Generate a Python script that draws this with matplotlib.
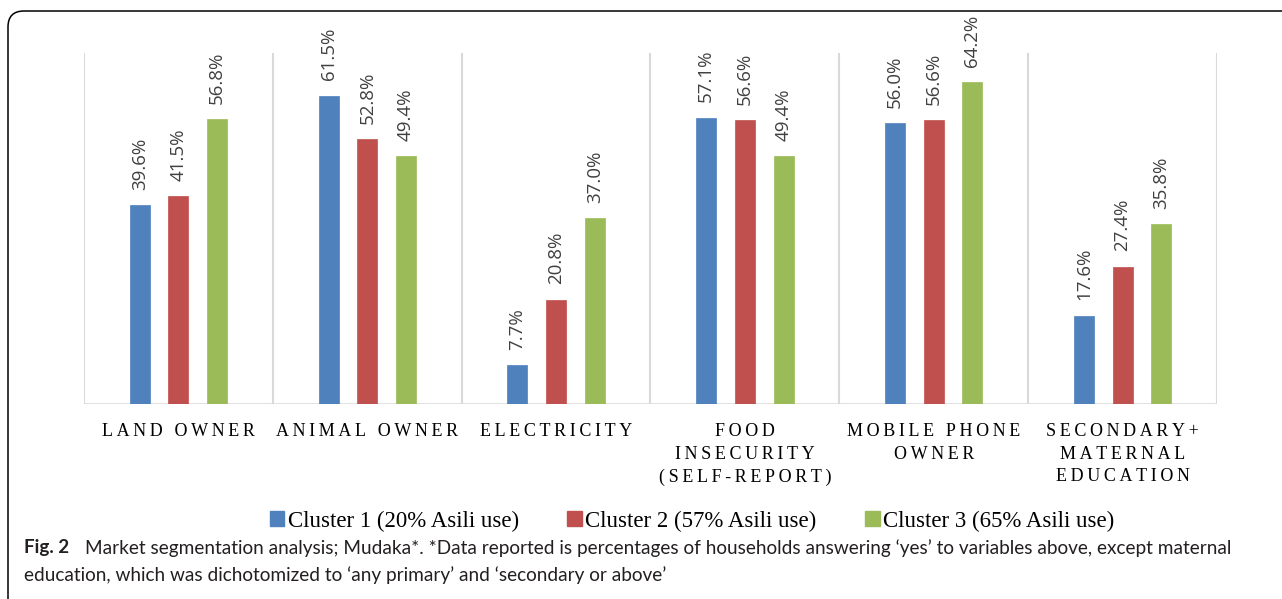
import numpy as np
import matplotlib.pyplot as plt
from matplotlib.patches import FancyBboxPatch, Patch
from matplotlib.transforms import IdentityTransform

# survey variables and cluster shares (% of households)
categories = ['LAND OWNER', 'ANIMAL OWNER', 'ELECTRICITY',
              'FOOD\nINSECURITY\n(SELF-REPORT)', 'MOBILE PHONE\nOWNER',
              'SECONDARY+\nMATERNAL\nEDUCATION']
cluster1 = [39.6, 61.5, 7.7, 57.1, 56.0, 17.6]
cluster2 = [41.5, 52.8, 20.8, 56.6, 56.6, 27.4]
cluster3 = [56.8, 49.4, 37.0, 49.4, 64.2, 35.8]
series_names = ['Cluster 1 (20% Asili use)', 'Cluster 2 (57% Asili use)',
                'Cluster 3 (65% Asili use)']
colors = ['#4f81bd', '#c0504d', '#9bbb59']

caption_bold = 'Fig. 2'
caption_1 = ('Market segmentation analysis; Mudaka*. *Data reported is percentages of '
             'households answering \u2018yes\u2019 to variables above, except maternal')
caption_2 = ('education, which was dichotomized to \u2018any primary\u2019 and '
             '\u2018secondary or above\u2019')


def spaced(label):
    # widen the letter spacing of the category names
    th = '\u2009'
    lines = []
    for line in label.split('\n'):
        words = [th.join(w) for w in line.split(' ')]
        lines.append((th + ' ' + th).join(words))
    return '\n'.join(lines)


W, H = 1282, 599
fig = plt.figure(figsize=(W / 100, H / 100), dpi=100)

# rounded frame around the figure (pixel coordinates)
frame = FancyBboxPatch((8, -30), 1320, H - 11 + 30,
                       boxstyle='round,pad=0,rounding_size=16',
                       transform=IdentityTransform(), fill=False,
                       edgecolor='black', linewidth=1.1)
fig.patches.append(frame)

ax = fig.add_axes([84 / W, 1 - 404 / H, (1217 - 84) / W, (404 - 53) / H])

x = np.arange(len(categories))
width = 0.106
offset = 0.205
for i, (vals, col) in enumerate(zip([cluster1, cluster2, cluster3], colors)):
    bars = ax.bar(x + (i - 1) * offset, vals, width, color=col,
                  edgecolor=col, linewidth=0.5, zorder=3)
    for b, v in zip(bars, vals):
        ax.annotate(f'{v:.1f}%', (b.get_x() + b.get_width() / 2, v),
                    xytext=(0, 11), textcoords='offset points',
                    rotation=90, ha='center', va='bottom',
                    fontsize=13.5, family='Open Sans', color='#404040')

ax.set_xlim(-0.5, len(categories) - 0.5)
ax.set_ylim(0, 70)

# vertical separators between categories
for b in np.arange(-0.5, len(categories), 1.0):
    ax.axvline(b, color='#d9d9d9', linewidth=1.5, zorder=1)
ax.axhline(0, color='#d9d9d9', linewidth=1.8, zorder=2)

for s in ax.spines.values():
    s.set_visible(False)
ax.set_yticks([])
ax.set_xticks(x)
ax.set_xticklabels([spaced(c) for c in categories], family='Liberation Serif',
                   fontsize=13, color='black', linespacing=1.42)
ax.tick_params(axis='x', length=0, pad=14)

handles = [Patch(facecolor=c, edgecolor=c) for c in colors]
fig.legend(handles, series_names, loc='center', bbox_to_anchor=(692 / W, 1 - 521 / H),
           ncol=3, frameon=False, prop={'family': 'Liberation Serif', 'size': 16.5},
           handlelength=0.65, handleheight=0.65, handletextpad=0.15,
           columnspacing=2.1, borderpad=0)

fig.text(24 / W, 1 - 548 / H, caption_bold, fontsize=13.5, fontweight='bold',
         family='Lato', color='#231f20', va='center')
fig.text(85 / W, 1 - 548 / H, caption_1, fontsize=13.7, family='Lato',
         color='#231f20', va='center')
fig.text(24 / W, 1 - 575 / H, caption_2, fontsize=13.7, family='Lato',
         color='#231f20', va='center')

fig.savefig('out.png', dpi=100)
